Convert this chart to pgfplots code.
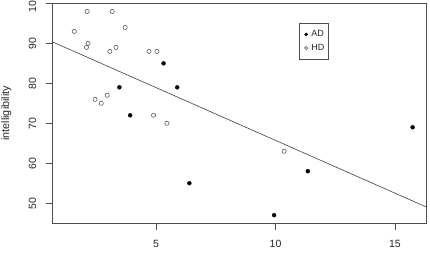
\documentclass[border=0pt]{standalone}
\usepackage{pgfplots}
\pgfplotsset{compat=1.18}
\usepackage{fontspec}
\setmainfont{Liberation Sans}
\definecolor{axgray}{HTML}{4D4D4D}
\definecolor{opengray}{HTML}{5A5A5A}
\begin{document}
\begin{tikzpicture}
\begin{axis}[
  scale only axis, width=374.4pt, height=220pt,
  xmin=0.65, xmax=16.33, ymin=44.96, ymax=100.04,
  xtick={5,10,15}, ytick={50,60,70,80,90,100},
  xtick pos=bottom, ytick pos=left,
  tick align=outside, major tick length=6.5pt,
  axis line style={axgray, line width=0.6pt},
  every tick/.style={axgray, line width=0.6pt},
  /pgf/number format/assume math mode=true,
  tick label style={font=\fontsize{10.5}{12}\selectfont, text=black!85},
  yticklabel style={rotate=90, anchor=south},
  yticklabel shift=6pt,
  xticklabel style={yshift=-7pt},
  every axis y label/.style={at={(axis description cs:-0.1229,0.5)}, anchor=center, rotate=90, font=\fontsize{10.8}{12}\selectfont, text=black!85},
  ylabel={intelligibility},
  legend style={at={(axis description cs:0.6594,0.9091)}, anchor=north west, draw=axgray, line width=0.5pt, font=\fontsize{9}{10}\selectfont, text=black!85, inner xsep=2pt, inner ysep=5pt, row sep=2pt, cells={anchor=west}},
  legend image code/.code={\draw[#1, mark size=1.6pt] plot coordinates {(0pt,0pt)}; \path (-4.5pt,0pt) (3pt,0pt);},
  legend cell align=left,
]
\addplot[only marks, mark=*, mark size=2pt, black, mark options={fill=black, line width=0.3pt}] coordinates {
 (3.46,79) (3.91,72) (5.31,85) (5.88,79) (6.39,55) (9.94,47) (11.35,58) (15.74,69)
};
\addlegendentry{AD}
\addplot[only marks, mark=o, mark size=2.1pt, opengray, mark options={line width=0.6pt}] coordinates {
 (1.57,93) (2.11,98) (3.16,98) (3.70,94) (2.15,90) (2.08,89) (3.06,88) (3.32,89)
 (4.70,88) (5.03,88) (2.44,76) (2.70,75) (2.95,77) (4.89,72) (5.45,70) (10.36,63)
};
\addlegendentry{HD}
\addplot[axgray!80!black, line width=0.6pt, forget plot] coordinates {(0.65,90.4) (16.33,49.0)};
\end{axis}
\pgfresetboundingbox
\path[use as bounding box] ([xshift=-52.3pt, yshift=-31.7pt]current axis.south west) rectangle ([xshift=3.3pt, yshift=3.3pt]current axis.north east);
\end{tikzpicture}
\end{document}
